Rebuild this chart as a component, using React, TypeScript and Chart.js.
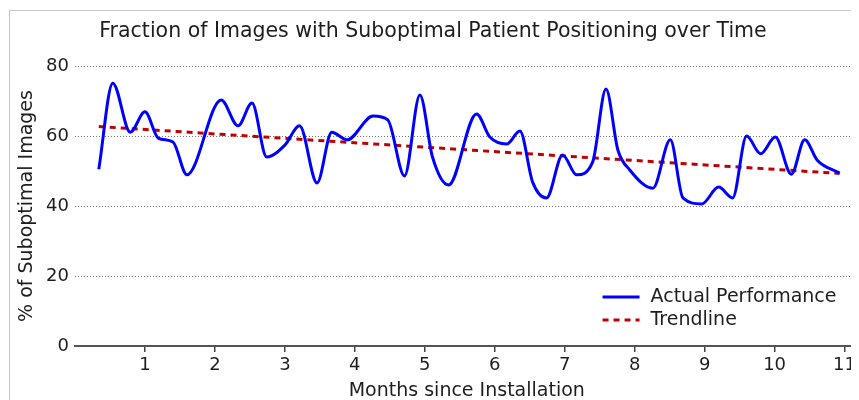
import React, { useEffect, useRef } from 'react';
import { Chart, registerables } from 'chart.js';

Chart.register(...registerables);

const months = [
  0.34, 0.54, 0.79, 1.0, 1.19, 1.4, 1.6, 2.09, 2.33, 2.53, 2.74, 3.0, 3.21, 3.46,
  3.67, 3.89, 4.26, 4.47, 4.71, 4.93, 5.11, 5.34, 5.74, 5.93, 6.17, 6.36, 6.54,
  6.74, 6.97, 7.17, 7.4, 7.59, 7.76, 7.93, 8.26, 8.51, 8.69, 8.96, 9.2, 9.4, 9.6,
  9.8, 10.01, 10.24, 10.43, 10.61, 10.93,
];
const actual = [
  50.5, 75.1, 61.1, 66.9, 59.4, 58.3, 48.9, 70.3, 62.9, 69.4, 54.0, 57.4, 62.9, 46.6,
  61.1, 58.9, 65.7, 64.6, 48.6, 71.7, 54.0, 46.0, 66.3, 59.7, 57.7, 61.4, 46.9,
  42.3, 54.6, 48.9, 52.6, 73.4, 56.0, 50.3, 45.1, 58.9, 42.3, 40.6, 45.4, 42.3, 60.0,
  54.9, 59.7, 49.1, 58.9, 53.1, 49.4,
];
const trendMonths = [0.34, 10.93];
const trendValues = [62.7, 49.3];
const xTicks = [1, 2, 3, 4, 5, 6, 7, 8, 9, 10, 11];
const yTicks = [0, 20, 40, 60, 80];

const FONT = "'DejaVu Sans', Verdana, sans-serif";
const TEXT = '#1e1e1e';

export default function App() {
  const ref = useRef<HTMLCanvasElement | null>(null);

  useEffect(() => {
    const canvas = ref.current;
    if (!canvas) return;

    const framePlugin = {
      id: 'frame',
      beforeDraw(chart: any) {
        const { ctx, width, height } = chart;
        ctx.save();
        ctx.fillStyle = '#c8c8c8';
        ctx.fillRect(1, 2, 1, height);
        ctx.fillRect(1, 2, width, 1);
        ctx.restore();
      },
    };

    const titlePlugin = {
      id: 'customTitle',
      afterDraw(chart: any) {
        const { ctx } = chart;
        ctx.save();
        ctx.font = `20.5px ${FONT}`;
        ctx.fillStyle = TEXT;
        ctx.textAlign = 'center';
        ctx.textBaseline = 'middle';
        ctx.fillText('Fraction of Images with Suboptimal Patient Positioning over Time', 425, 24);
        ctx.restore();
      },
    };

    const legendPlugin = {
      id: 'insideLegend',
      afterDraw(chart: any) {
        const { ctx, chartArea } = chart;
        const x0 = chartArea.right - 256;
        const y0 = chartArea.bottom - 49;
        ctx.save();
        ctx.font = `19px ${FONT}`;
        ctx.textBaseline = 'middle';
        ctx.textAlign = 'left';
        chart.data.datasets.forEach((ds: any, i: number) => {
          const y = y0 + i * 23;
          ctx.strokeStyle = ds.borderColor;
          ctx.lineWidth = ds.borderWidth;
          ctx.setLineDash(ds.borderDash || []);
          ctx.beginPath();
          ctx.moveTo(x0, y);
          ctx.lineTo(x0 + 37, y);
          ctx.stroke();
          ctx.setLineDash([]);
          ctx.fillStyle = TEXT;
          ctx.fillText(ds.label, x0 + 48, y);
        });
        ctx.restore();
      },
    };

    const chart = new Chart(canvas, {
      type: 'line',
      data: {
        datasets: [
          {
            label: 'Actual Performance',
            data: months.map((m, i) => ({ x: m, y: actual[i] })),
            borderColor: '#0000ff',
            borderWidth: 3,
            pointRadius: 0,
            cubicInterpolationMode: 'monotone',
            fill: false,
          },
          {
            label: 'Trendline',
            data: trendMonths.map((m, i) => ({ x: m, y: trendValues[i] })),
            borderColor: '#c00000',
            borderWidth: 3,
            borderDash: [6, 5],
            pointRadius: 0,
            fill: false,
          },
        ],
      },
      options: {
        responsive: false,
        animation: false,
        layout: { padding: { top: 58, left: 0, right: 0, bottom: 0 } },
        plugins: {
          legend: { display: false },
          title: { display: false },
          tooltip: { enabled: false },
        },
        scales: {
          x: {
            type: 'linear',
            min: 0,
            max: 11.2,
            afterBuildTicks: (s: any) => {
              s.ticks = xTicks.map((v) => ({ value: v }));
            },
            afterFit: (s: any) => {
              s.height = 54;
            },
            grid: {
              drawOnChartArea: false,
              drawTicks: true,
              tickLength: 6,
              color: '#444',
              lineWidth: 1.5,
            },
            border: { display: true, color: '#555', width: 2 },
            ticks: {
              font: { family: FONT, size: 18 },
              color: TEXT,
              padding: 3,
              maxRotation: 0,
              autoSkip: false,
            },
            title: {
              display: true,
              text: 'Months since Installation',
              font: { family: FONT, size: 19, lineHeight: 0.9 },
              color: TEXT,
              padding: { top: 0, bottom: 0 },
            },
          },
          y: {
            min: 0,
            max: 80,
            afterBuildTicks: (s: any) => {
              s.ticks = yTicks.map((v) => ({ value: v }));
            },
            afterFit: (s: any) => {
              s.width = 67;
            },
            grid: {
              drawTicks: false,
              color: '#777',
              lineWidth: 1,
            },
            border: { display: false, dash: [1, 2] },
            ticks: {
              font: { family: FONT, size: 18 },
              color: TEXT,
              padding: 6,
            },
            title: {
              display: true,
              text: '% of Suboptimal Images',
              font: { family: FONT, size: 19 },
              color: TEXT,
              padding: { top: 8, bottom: 0 },
            },
          },
        },
      },
      plugins: [framePlugin, titlePlugin, legendPlugin],
    } as any);

    return () => {
      chart.destroy();
    };
  }, []);

  return <canvas ref={ref} width={851} height={392} style={{ display: 'block' }} />;
}
